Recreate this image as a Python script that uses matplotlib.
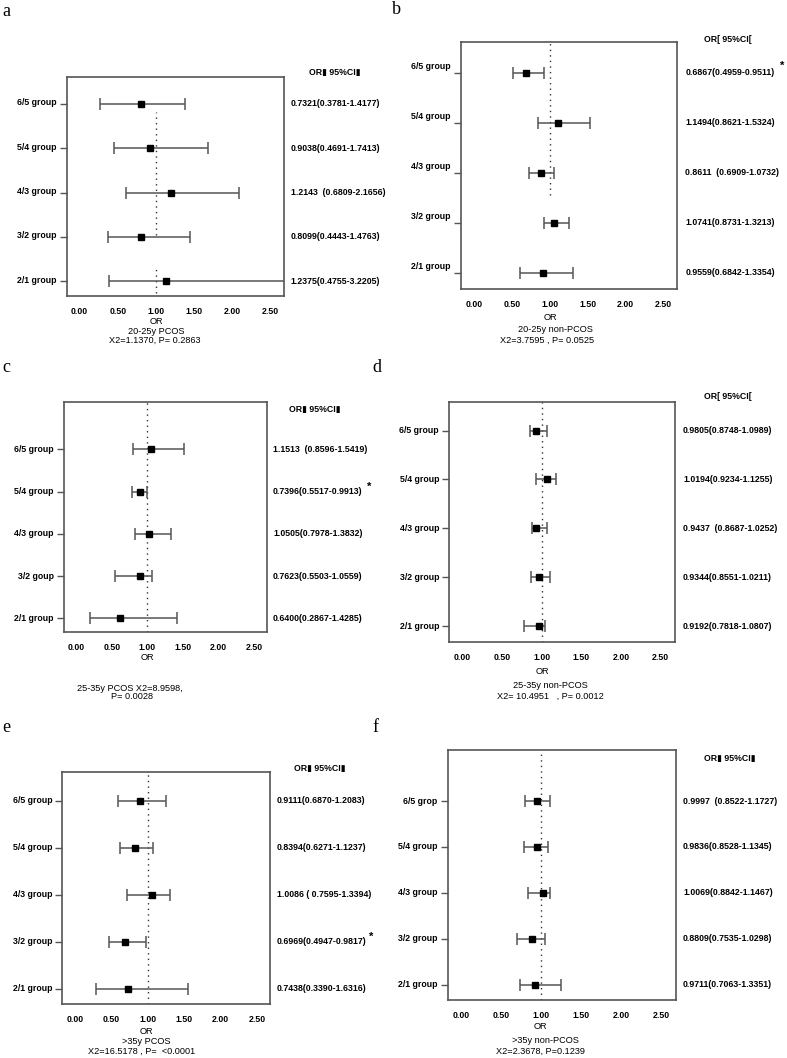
import matplotlib
matplotlib.use("Agg")
import matplotlib.pyplot as plt
import numpy as np

W, H = 787, 1058

# ---------------- data ----------------
groups_std = ["6/5 group", "5/4 group", "4/3 group", "3/2 group", "2/1 group"]
groups_c = ["6/5 group", "5/4 group", "4/3 group", "3/2 goup", "2/1 group"]
groups_f = ["6/5 grop", "5/4 group", "4/3 group", "3/2 group", "2/1 group"]

# plotted point estimates and CI ends (as drawn)
or_a = [0.81, 0.92, 1.20, 0.81, 1.14]
lo_a = [0.27, 0.45, 0.61, 0.37, 0.39]
hi_a = [1.39, 1.68, 2.09, 1.45, 3.22]

or_b = [0.69, 1.11, 0.89, 1.06, 0.91]
lo_b = [0.51, 0.84, 0.72, 0.92, 0.61]
hi_b = [0.92, 1.53, 1.06, 1.25, 1.30]

or_c = [1.05, 0.89, 1.03, 0.89, 0.61]
lo_c = [0.80, 0.78, 0.83, 0.55, 0.20]
hi_c = [1.52, 1.00, 1.33, 1.06, 1.41]

or_d = [0.93, 1.07, 0.93, 0.96, 0.96]
lo_d = [0.85, 0.93, 0.88, 0.86, 0.77]
hi_d = [1.06, 1.18, 1.06, 1.10, 1.04]

or_e = [0.89, 0.83, 1.06, 0.69, 0.73]
lo_e = [0.59, 0.62, 0.72, 0.47, 0.29]
hi_e = [1.25, 1.08, 1.31, 0.98, 1.56]

or_f = [0.94, 0.94, 1.02, 0.88, 0.92]
lo_f = [0.80, 0.78, 0.83, 0.70, 0.73]
hi_f = [1.11, 1.08, 1.11, 1.05, 1.25]

txt_a = ["0.7321(0.3781-1.4177)", "0.9038(0.4691-1.7413)", "1.2143  (0.6809-2.1656)",
         "0.8099(0.4443-1.4763)", "1.2375(0.4755-3.2205)"]
txt_b = ["0.6867(0.4959-0.9511)", "1.1494(0.8621-1.5324)", "0.8611  (0.6909-1.0732)",
         "1.0741(0.8731-1.3213)", "0.9559(0.6842-1.3354)"]
txt_c = ["1.1513  (0.8596-1.5419)", "0.7396(0.5517-0.9913)", "1.0505(0.7978-1.3832)",
         "0.7623(0.5503-1.0559)", "0.6400(0.2867-1.4285)"]
txt_d = ["0.9805(0.8748-1.0989)", "1.0194(0.9234-1.1255)", "0.9437  (0.8687-1.0252)",
         "0.9344(0.8551-1.0211)", "0.9192(0.7818-1.0807)"]
txt_e = ["0.9111(0.6870-1.2083)", "0.8394(0.6271-1.1237)", "1.0086 ( 0.7595-1.3394)",
         "0.6969(0.4947-0.9817)", "0.7438(0.3390-1.6316)"]
txt_f = ["0.9997  (0.8522-1.1727)", "0.9836(0.8528-1.1345)", "1.0069(0.8842-1.1467)",
         "0.8809(0.7535-1.0298)", "0.9711(0.7063-1.3351)"]

headers = ["OR\u25ae 95%CI\u25ae", "OR[ 95%CI[", "OR\u25ae 95%CI\u25ae",
           "OR[ 95%CI[", "OR\u25ae 95%CI\u25ae", "OR\u25ae 95%CI\u25ae"]

subtitles = [
    ["OR", "20-25y PCOS", "X2=1.1370, P= 0.2863"],
    ["OR", "20-25y non-PCOS", "X2=3.7595 , P= 0.0525"],
    ["OR", "25-35y PCOS X2=8.9598,", "P= 0.0028"],
    ["OR", "25-35y non-PCOS", "X2= 10.4951   , P= 0.0012"],
    ["OR", ">35y PCOS", "X2=16.5178 , P=  <0.0001"],
    ["OR", ">35y non-PCOS", "X2=2.3678, P=0.1239"],
]
letters = ["a", "b", "c", "d", "e", "f"]

xticks = [0.0, 0.5, 1.0, 1.5, 2.0, 2.5]

# ---------------- layout (pixels) ----------------
panels = [
    dict(box=(66.7, 283.7, 77.3, 296.0), ytop=5.60, dots=[(0.28, 0.84), (0.015, 0.135)],
         head=(335, 72.7), sub=[(156, 321), (156.7, 331), (155, 340)], letter=(2, 11),
         lab_dy=1, star=None, tx=7),
    dict(box=(461.0, 677.3, 42.3, 289.3), ytop=5.61, dots=[(0.38, 1.0)],
         head=(728, 39.3), sub=[(550, 317.7), (555, 329.3), (546.7, 340.7)], letter=(392, 10),
         lab_dy=6, star=(781.7, 66), tx=8),
    dict(box=(64.0, 267.0, 402.3, 632.3), ytop=6.11, dots=[(0.0, 1.0)],
         head=(315, 410), sub=[(147.7, 657.7), (130, 688.3), (131.7, 696.7)], letter=(2, 368),
         lab_dy=0, star=(369.5, 487), tx=6),
    dict(box=(449.0, 675.0, 401.7, 642.3), ytop=5.59, dots=[(0.0, 1.0)],
         head=(728, 397), sub=[(542.7, 671), (550, 685), (550, 696)], letter=(372, 368),
         lab_dy=0, star=None, tx=8),
    dict(box=(62.3, 270.0, 771.7, 1004.0), ytop=5.62, dots=[(0.0, 1.0)],
         head=(320, 769), sub=[(146.7, 1031.7), (146.7, 1041.7), (141.7, 1051.7)], letter=(2, 727),
         lab_dy=0, star=(371.5, 937), tx=7),
    dict(box=(447.7, 676.0, 750.0, 1000.0), ytop=6.11, dots=[(0.0, 1.0)],
         head=(730, 759), sub=[(540, 1026.7), (545, 1040.7), (540, 1051)], letter=(372, 727),
         lab_dy=0, star=None, tx=7),
]

series = [
    (groups_std, or_a, lo_a, hi_a, txt_a),
    (groups_std, or_b, lo_b, hi_b, txt_b),
    (groups_c, or_c, lo_c, hi_c, txt_c),
    (groups_std, or_d, lo_d, hi_d, txt_d),
    (groups_std, or_e, lo_e, hi_e, txt_e),
    (groups_f, or_f, lo_f, hi_f, txt_f),
]

plt.rcParams["font.family"] = ["Liberation Sans", "DejaVu Sans"]
FS = 6.3
WT = "bold"

fig = plt.figure(figsize=(W / 100, H / 100), dpi=100)
fig.patch.set_facecolor("white")


def fx(x):
    return x / W


def fy(y):
    return 1 - y / H


for i, (p, (grp, est, lo, hi, txt)) in enumerate(zip(panels, series)):
    l, r, t, b = p["box"]
    ax = fig.add_axes([fx(l), fy(b), (r - l) / W, (b - t) / H])
    ys = np.arange(len(grp), 0, -1)
    ax.set_xlim(-0.17, 2.68)
    ax.set_ylim(0.67, p["ytop"])

    for (y0, y1) in p["dots"]:
        ax.axvline(1.0, ymin=y0, ymax=y1, color="#333333", lw=1.0,
                   linestyle=(0, (1, 3)), zorder=1)

    ax.errorbar(est, ys, xerr=[np.array(est) - np.array(lo), np.array(hi) - np.array(est)],
                fmt="s", color="black", ms=4.5, ecolor="#555555", elinewidth=1.1,
                capsize=4.3, capthick=1.1, zorder=3)

    ax.set_xticks(xticks)
    ax.set_xticklabels([f"{v:.2f}" for v in xticks], fontsize=FS, fontweight=WT)
    ax.tick_params(axis="x", length=0, pad=8)
    ax.set_yticks(ys)
    ax.set_yticklabels([])
    ax.tick_params(axis="y", length=5, width=1.0, color="#555555", direction="out")
    for s in ax.spines.values():
        s.set_color("#555555")
        s.set_linewidth(1.2)

    for y, g, tv in zip(ys, grp, txt):
        ax.annotate(g, xy=(0, y), xycoords=("axes fraction", "data"),
                    xytext=(-10, p["lab_dy"]), textcoords="offset pixels",
                    ha="right", va="center", fontsize=FS, fontweight=WT)
        ax.annotate(tv, xy=(1, y), xycoords=("axes fraction", "data"),
                    xytext=(p["tx"], 0), textcoords="offset pixels",
                    ha="left", va="center", fontsize=FS, fontweight=WT)

    hx, hy = p["head"]
    fig.text(fx(hx), fy(hy), headers[i], ha="center", va="center", fontsize=FS, fontweight=WT)

    for (sx, sy), s in zip(p["sub"], subtitles[i]):
        fig.text(fx(sx), fy(sy), s, ha="center", va="center", fontsize=6.6)

    if p["star"] is not None:
        sx, sy = p["star"]
        fig.text(fx(sx), fy(sy), "*", ha="center", va="center", fontsize=8, fontweight=WT)

    lx, ly = p["letter"]
    fig.text(fx(lx), fy(ly), letters[i], ha="left", va="center", fontsize=13,
             family=["Liberation Serif", "DejaVu Serif"])

fig.savefig("out.png", dpi=100, facecolor="white")
